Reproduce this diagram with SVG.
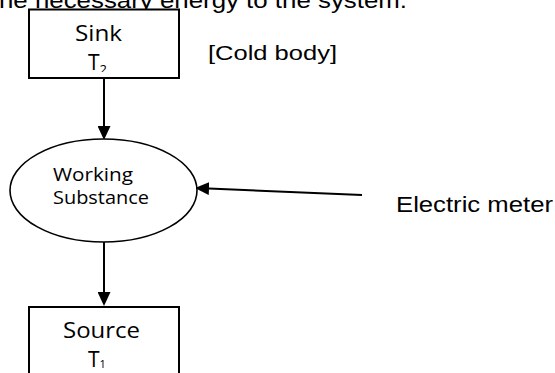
<svg xmlns="http://www.w3.org/2000/svg" width="555" height="373" viewBox="0 0 555 373">
<style>
.box{fill:#fff;stroke:#000;stroke-width:2}
.ell{fill:#fff;stroke:#000;stroke-width:1.6}
.con{stroke:#000;stroke-width:2;fill:none;marker-end:url(#ah)}
.ar{font-family:"Liberation Sans",Arial,sans-serif;fill:#000}
.cb{font-family:"Open Sans","Noto Sans",sans-serif;fill:#000}
</style>
<defs>
<marker id="ah" viewBox="0 0 14 13" markerUnits="userSpaceOnUse" markerWidth="14" markerHeight="13" refX="6" refY="6.5" orient="auto">
<path d="M0,0 L14,6.5 L0,13 z" fill="#000"/>
</marker>
<clipPath id="sinkclip"><rect x="30" y="10" width="148" height="62"/></clipPath>
</defs>
<rect width="555" height="373" fill="#fff"/>
<text id="caption" class="ar" x="-1" y="8" font-size="22" textLength="408" lengthAdjust="spacingAndGlyphs">he necessary energy to the system.</text>
<g id="connectors">
<line class="con" x1="104" y1="78" x2="104" y2="132"/>
<line class="con" x1="104" y1="242" x2="104" y2="298"/>
<line class="con" x1="362" y1="195" x2="203" y2="188.3"/>
</g>
<g id="sink">
<rect class="box" x="29" y="9.5" width="150" height="68.5"/>
<text class="cb" x="75" y="41" font-size="21" textLength="47" lengthAdjust="spacingAndGlyphs">Sink</text>
<g clip-path="url(#sinkclip)">
<text class="cb" x="88" y="70" font-size="21">T<tspan font-size="13" dy="4">2</tspan></text>
</g>
</g>
<g id="cold-label">
<text class="ar" x="208" y="60" font-size="21" textLength="129" lengthAdjust="spacingAndGlyphs">[Cold body]</text>
</g>
<g id="working-substance">
<ellipse class="ell" cx="103.5" cy="190.5" rx="93.5" ry="51.5"/>
<text class="cb" x="53" y="181" font-size="19" textLength="80" lengthAdjust="spacingAndGlyphs">Working</text>
<text class="cb" x="53" y="204" font-size="19" textLength="96" lengthAdjust="spacingAndGlyphs">Substance</text>
</g>
<g id="electric-meter">
<text class="ar" x="396" y="212" font-size="22" textLength="157" lengthAdjust="spacingAndGlyphs">Electric meter</text>
</g>
<g id="source">
<rect class="box" x="29" y="307" width="150" height="80"/>
<text class="cb" x="63" y="338" font-size="21" textLength="77" lengthAdjust="spacingAndGlyphs">Source</text>
<text class="cb" x="88" y="367" font-size="21">T<tspan font-size="11" dy="1">1</tspan></text>
</g>
</svg>
